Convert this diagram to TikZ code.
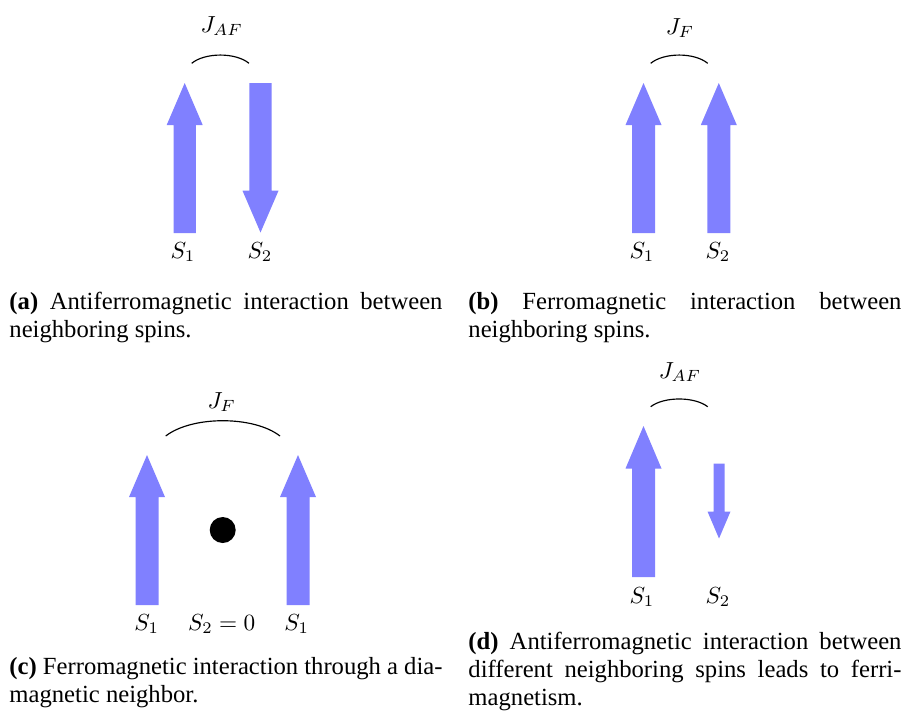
\documentclass[tikz,border=0pt]{standalone}
\usepackage{amsmath}
\usepackage{fontspec}
\setmainfont{Liberation Serif}
\usepackage{tikz}
\usetikzlibrary{positioning}

\begin{document}
\begin{tikzpicture}[x=0.43pt,y=-0.43pt,
  spin/.style={fill=blue!50,draw=none},
  coupling/.style={black,line width=0.5pt},
  lbl/.style={inner sep=0pt,font=\fontsize{10.4}{12}\selectfont},
  capt/.style={anchor=base west,inner sep=0pt,text width=186.2pt,align=justify,
    font=\fontsize{10.6}{12.1}\selectfont}]
\useasboundingbox (0,0) rectangle (903,715);

% (a) antiferromagnetic pair
\fill[spin] (173.5,233) -- (173.5,125) -- (166.7,125) -- (184.7,83) -- (202.7,125) -- (195.9,125) -- (195.9,233) -- cycle;
\fill[spin] (249.3,83) -- (249.3,190.7) -- (242.5,190.7) -- (260.5,232.5) -- (278.5,190.7) -- (271.7,190.7) -- (271.7,83) -- cycle;
\coordinate (aL) at (191.7,63.3);
\coordinate (aR) at (249,63.3);
\draw[coupling] (aL) .. controls (205,52.3) and (235.7,52.3) .. (aR);
\node[lbl] (Ja) at (221.7,26) {$J_{AF}$};
\node[lbl] (a1) at (183,252) {$S_1$};
\node[lbl] (a2) at (260,252) {$S_2$};
\node[capt] (capa) at (9,309) {\textbf{(a)} Antiferromagnetic interaction between\linebreak neighboring spins.};

% (b) ferromagnetic pair
\fill[spin] (632,233) -- (632,125) -- (625.5,125) -- (643.5,83) -- (661.5,125) -- (655,125) -- (655,233) -- cycle;
\fill[spin] (707.3,233) -- (707.3,125) -- (700.8,125) -- (718.8,83) -- (736.8,125) -- (730.3,125) -- (730.3,233) -- cycle;
\coordinate (bL) at (650.7,63.3);
\coordinate (bR) at (707.7,63.3);
\draw[coupling] (bL) .. controls (664,52.3) and (694.4,52.3) .. (bR);
\node[lbl] (Jb) at (680,28) {$J_F$};
\node[lbl] (b1) at (642,252) {$S_1$};
\node[lbl] (b2) at (718,252) {$S_2$};
\node[capt] (capb) at (468,309) {\textbf{(b)} Ferromagnetic interaction between\linebreak neighboring spins.};

% (c) coupling through a diamagnetic site
\fill[spin] (135.5,605) -- (135.5,497) -- (129,497) -- (147,455) -- (165,497) -- (158.5,497) -- (158.5,605) -- cycle;
\fill[spin] (286.5,605) -- (286.5,497) -- (280,497) -- (298,455) -- (316,497) -- (309.5,497) -- (309.5,605) -- cycle;
\fill (222.7,530) circle (13);
\coordinate (cL) at (165.7,436);
\coordinate (cR) at (280,436);
\draw[coupling] (cL) .. controls (192,415.6) and (253.7,415.6) .. (cR);
\node[lbl] (Jc) at (221.7,402) {$J_F$};
\node[lbl] (c1) at (146.7,624) {$S_1$};
\node[lbl] (c2) at (221.7,624) {$S_2 = 0$};
\node[lbl] (c3) at (296.7,624) {$S_1$};
\node[capt] (capc) at (9,674) {\textbf{(c)} Ferromagnetic interaction through a dia-\linebreak magnetic neighbor.};

% (d) unequal antiferromagnetic pair
\fill[spin] (632,577) -- (632,468.5) -- (625.5,468.5) -- (643.5,426) -- (661.5,468.5) -- (655,468.5) -- (655,577) -- cycle;
\fill[spin] (713.5,463.5) -- (713.5,511.5) -- (707.5,511.5) -- (719,538.5) -- (730.5,511.5) -- (724.5,511.5) -- (724.5,463.5) -- cycle;
\coordinate (dL) at (650.7,406.7);
\coordinate (dR) at (707.7,406.7);
\draw[coupling] (dL) .. controls (664,396.4) and (694.4,396.4) .. (dR);
\node[lbl] (Jd) at (680,372) {$J_{AF}$};
\node[lbl] (d1) at (642,597) {$S_1$};
\node[lbl] (d2) at (718,597) {$S_2$};
\node[capt] (capd) at (468,649) {\textbf{(d)} Antiferromagnetic interaction between\linebreak different neighboring spins leads to ferri-\linebreak magnetism.};
\end{tikzpicture}
\end{document}
